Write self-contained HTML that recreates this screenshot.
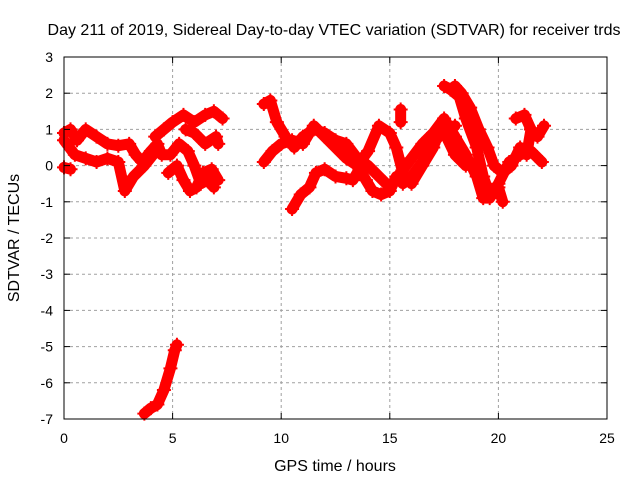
<!DOCTYPE html>
<html><head><meta charset="utf-8"><style>
body{margin:0;background:#fff}
svg text{font-family:"Liberation Sans",sans-serif;font-size:14px;fill:#000}
svg text.big{font-size:16px}
</style></head><body>
<svg id="c" width="640" height="480" xmlns="http://www.w3.org/2000/svg">
<rect width="640" height="480" fill="#fff"/>
<text class="big" x="334" y="35" text-anchor="middle">Day 211 of 2019, Sidereal Day-to-day VTEC variation (SDTVAR) for receiver trds</text>
<text class="big" x="335" y="471" text-anchor="middle">GPS time / hours</text>
<text class="big" transform="translate(19,238) rotate(-90)" text-anchor="middle">SDTVAR / TECUs</text>
<g id="grid"></g><g id="data"></g>
<rect x="64" y="57" width="543" height="362" fill="none" stroke="#000"/>
<g id="ticks"></g>
</svg>
<script>
const xTicks=[0,5,10,15,20,25];
const yTicks=[3,2,1,0,-1,-2,-3,-4,-5,-6,-7];
const trackA_t=[3.7,4.0,4.3,4.6,4.9,5.1,5.2];
const trackA_v=[-6.85,-6.7,-6.6,-6.2,-5.6,-5.1,-4.95];
const trackB_t=[0,0.3,0.6,1.0,1.5,2.0,2.5,3.0,3.3,3.6,4.0,4.3,4.5,4.9,5.3,5.7,6.0,6.3,6.6,6.9];
const trackB_v=[0.9,1.0,0.7,1.0,0.8,0.6,0.55,0.6,0.3,0.1,0.4,0.6,0.3,0.3,0.6,0.4,0.0,-0.5,-0.4,-0.6];
const trackC_t=[0,0.5,1.0,1.5,2.0,2.5,2.8,3.2,3.7,4.1,4.3];
const trackC_v=[0.7,0.3,0.2,0.1,0.2,0.1,-0.7,-0.3,0.0,0.3,0.5];
const trackD_t=[4.2,4.6,5.0,5.5,6.0,6.5,6.9,7.3];
const trackD_v=[0.8,1.0,1.2,1.4,1.2,1.4,1.5,1.3];
const trackE_t=[5.6,6.0,6.5,7.0,7.1];
const trackE_v=[1.0,0.9,0.6,0.8,0.6];
const trackF_t=[4.8,5.2,5.5,5.8,6.1,6.4,6.8,7.1];
const trackF_v=[-0.2,0.0,-0.4,-0.7,-0.6,-0.2,-0.1,-0.4];
const trackS_t=[0,0.3];
const trackS_v=[-0.05,-0.1];
const trackG_t=[9.2,9.5,9.8,10.2,10.6,11.0,11.5,12.0,12.5,13.0,13.5,14.0,14.5,15.0,15.5,16.0,16.5,17.0,17.5,18.0,18.5,19.0,19.3,19.6,20.0,20.5,21.0,21.5,22.0];
const trackG_v=[1.7,1.8,1.2,0.8,0.5,0.8,1.0,0.9,0.7,0.6,0.2,0.0,-0.3,-0.6,-0.2,0.2,0.6,0.9,1.3,0.8,0.3,-0.3,-0.9,-0.9,-0.5,0.1,0.3,0.4,0.1];
const trackH_t=[9.2,9.6,10.0,10.5,11.0,11.5,12.0,12.5,13.0,13.5,14.0,14.5,15.0,15.3,15.6,16.0,16.5,17.0,17.3,17.6,18.0,18.5];
const trackH_v=[0.1,0.4,0.6,0.7,0.6,1.1,0.8,0.5,0.2,0.0,0.4,1.1,0.9,0.5,-0.2,-0.5,0.0,0.5,1.0,0.8,0.3,0.0];
const trackI_t=[10.5,10.9,11.3,11.6,12.0,12.5,13.0,13.3,13.6,13.9,14.2,14.6,15.0,15.3,15.6,16.0,16.5,17.0,17.5,18.0];
const trackI_v=[-1.2,-0.8,-0.6,-0.2,-0.1,-0.3,-0.35,-0.4,-0.1,-0.4,-0.7,-0.8,-0.7,-0.3,-0.5,-0.3,0.1,0.6,1.0,1.1];
const trackJ_t=[17.5,17.8,18.2,18.5,19.0,19.3,19.6,20.0,20.2];
const trackJ_v=[2.2,2.1,1.9,1.3,0.5,-0.3,-0.8,-0.6,-1.0];
const trackK_t=[18.0,18.3,18.7,19.1,19.5,19.8,20.2,20.6,21.0,21.3,21.5,21.8,22.1];
const trackK_v=[2.2,2.0,1.6,1.0,0.5,0.0,-0.2,0.0,0.5,0.3,1.0,0.8,1.1];
const trackL_t=[20.8,21.2,21.5];
const trackL_v=[1.3,1.4,1.0];
const trackM_t=[15.5,15.5];
const trackM_v=[1.55,1.2];
const tracks=[[trackA_t,trackA_v],[trackB_t,trackB_v],[trackC_t,trackC_v],[trackD_t,trackD_v],[trackE_t,trackE_v],[trackF_t,trackF_v],[trackS_t,trackS_v],[trackG_t,trackG_v],[trackH_t,trackH_v],[trackI_t,trackI_v],[trackJ_t,trackJ_v],[trackK_t,trackK_v],[trackL_t,trackL_v],[trackM_t,trackM_v]];
const X=h=>64+h*543/25, Y=v=>57+(3-v)*362/10;
const NS="http://www.w3.org/2000/svg";
function mk(tag,attrs,parent){const e=document.createElementNS(NS,tag);for(const k in attrs)e.setAttribute(k,attrs[k]);parent.appendChild(e);return e;}
const grid=document.getElementById('grid'),ticks=document.getElementById('ticks'),data=document.getElementById('data');
xTicks.forEach(t=>{
  if(t>0&&t<25){const g=mk('line',{x1:X(t),x2:X(t),y1:57,y2:419,stroke:'#a0a0a0','stroke-dasharray':'3,3'},grid);
  
  }
  mk('line',{x1:X(t),x2:X(t),y1:419,y2:413,stroke:'#000'},ticks);
  mk('line',{x1:X(t),x2:X(t),y1:57,y2:63,stroke:'#000'},ticks);
  const l=mk('text',{x:X(t),y:443,'text-anchor':'middle'},ticks);l.textContent=t;
  
  
});
yTicks.forEach(t=>{
  if(t<3&&t>-7){const g=mk('line',{x1:64,x2:607,y1:Y(t),y2:Y(t),stroke:'#a0a0a0','stroke-dasharray':'3,3'},grid);
  
  }
  mk('line',{x1:64,x2:70,y1:Y(t),y2:Y(t),stroke:'#000'},ticks);
  mk('line',{x1:607,x2:601,y1:Y(t),y2:Y(t),stroke:'#000'},ticks);
  const l=mk('text',{x:53,y:Y(t)+5,'text-anchor':'end'},ticks);l.textContent=t;
  
  
});
tracks.forEach(([ts,vs])=>{
  const p=mk('polyline',{points:ts.map((t,i)=>X(t)+','+Y(vs[i])).join(' '),fill:'none',stroke:'#f00','stroke-width':11,'stroke-linejoin':'round','stroke-linecap':'round'},data);
  
  
  ts.forEach((t,i)=>{
    const m=mk('path',{d:`M${X(t)-7},${Y(vs[i])}h14M${X(t)},${Y(vs[i])-7}v14`,stroke:'#f00','stroke-width':2},data);
    
    
  });
});
</script>
</body></html>
